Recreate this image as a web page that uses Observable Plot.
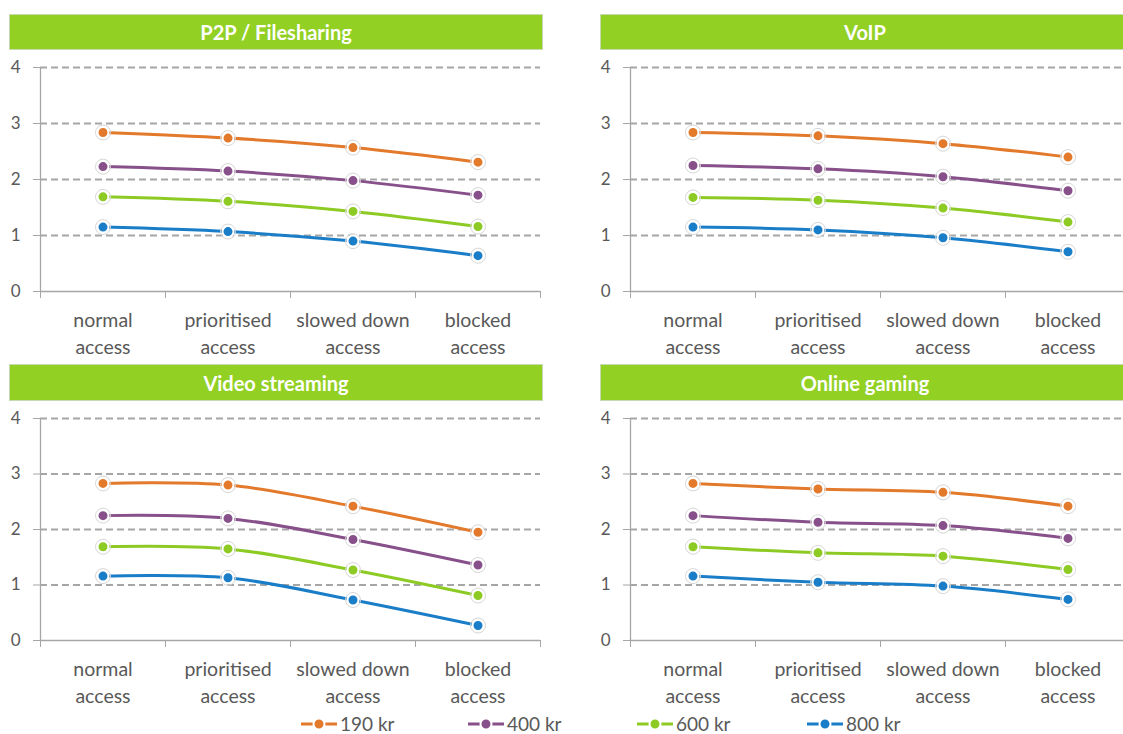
<!DOCTYPE html>
<html><head><meta charset="utf-8">
<script src="https://cdn.jsdelivr.net/npm/d3@7"></script>
<script src="https://cdn.jsdelivr.net/npm/@observablehq/plot@0.6"></script>
<style>
body{margin:0;background:#fff;width:1123px;height:734px;overflow:hidden;position:relative;font-family:Lato,"Open Sans",sans-serif;}
.bar{position:absolute;background:#92D024;color:#fff;font-weight:bold;font-size:20px;display:flex;align-items:center;justify-content:center;box-sizing:border-box;border:1px solid #c8d8b0;}
.panel{position:absolute;width:550px;}
.panel svg{max-width:none !important;}
.legend{position:absolute;top:715px;left:0;width:1123px;height:18px;}
.item{position:absolute;display:flex;align-items:center;font-size:19px;line-height:18px;height:18px;color:#595959;}
</style></head><body>
<script>
const categories = ["normal\naccess", "prioritised\naccess", "slowed down\naccess", "blocked\naccess"];
const seriesNames = ["190 kr", "400 kr", "600 kr", "800 kr"];
const seriesColors = ["#E2792B", "#87508A", "#8DCB24", "#1A7DC8"];
const panelTitles = ["P2P / Filesharing", "VoIP", "Video streaming", "Online gaming"];
const yTicks = [0, 1, 2, 3, 4];

// values per series: 190 kr, 400 kr, 600 kr, 800 kr
const p2p = [
  [2.84, 2.74, 2.57, 2.31],
  [2.23, 2.15, 1.98, 1.72],
  [1.69, 1.61, 1.43, 1.16],
  [1.15, 1.07, 0.90, 0.64]
];
const voip = [
  [2.84, 2.78, 2.64, 2.40],
  [2.25, 2.19, 2.05, 1.80],
  [1.68, 1.63, 1.49, 1.24],
  [1.15, 1.10, 0.96, 0.71]
];
const video = [
  [2.83, 2.80, 2.42, 1.95],
  [2.25, 2.20, 1.82, 1.36],
  [1.69, 1.65, 1.27, 0.81],
  [1.16, 1.13, 0.73, 0.27]
];
const gaming = [
  [2.83, 2.73, 2.67, 2.42],
  [2.25, 2.13, 2.07, 1.84],
  [1.69, 1.58, 1.52, 1.28],
  [1.16, 1.05, 0.98, 0.74]
];

function makePanel(values, height) {
  const data = [];
  values.forEach((vals, s) => vals.forEach((v, i) => data.push({series: seriesNames[s], x: i + 0.5, v})));
  return Plot.plot({
    width: 550, height, marginLeft: 40, marginRight: 10, marginTop: 17, marginBottom: 65,
    style: {fontFamily: "Lato, 'Open Sans', sans-serif", fontSize: "19.5px", color: "#595959", background: "transparent", overflow: "visible"},
    x: {domain: [0, 4]},
    y: {domain: [0, 4]},
    color: {domain: seriesNames, range: seriesColors},
    marks: [
      Plot.ruleY([1, 2, 3, 4], {stroke: "#A6A6A6", strokeWidth: 2, strokeDasharray: "7,4"}),
      Plot.ruleY([0], {stroke: "#A6A6A6", strokeWidth: 1.3}),
      Plot.ruleX([0], {stroke: "#A6A6A6", strokeWidth: 1.3}),
      Plot.axisY({ticks: yTicks, tickSize: 7, tickPadding: 13, tickFormat: d => String(d), stroke: "#A6A6A6", fill: "#595959", label: null, fontSize: 17}),
      Plot.axisX({ticks: [0, 1, 2, 3, 4], tickSize: 7, tickFormat: () => "", stroke: "#A6A6A6", label: null}),
      Plot.axisX({ticks: [0.5, 1.5, 2.5, 3.5], tickSize: 0, tickPadding: 16, tickFormat: d => categories[Math.floor(d)], fill: "#595959", label: null, lineHeight: 1.38}),
      Plot.line(data, {x: "x", y: "v", z: "series", stroke: "series", strokeWidth: 3, curve: "catmull-rom"}),
      Plot.dot(data, {x: "x", y: "v", r: 7.5, stroke: "#d6d6d6", strokeWidth: 1, fill: "none"}),
      Plot.dot(data, {x: "x", y: "v", r: 5.5, fill: "series", stroke: "white", strokeWidth: 2})
    ]
  });
}

const layout = [
  {vals: p2p, barL: 9, barT: 14, barW: 534, barH: 36, pL: 0, pT: 50, h: 306},
  {vals: voip, barL: 600, barT: 14, barW: 530, barH: 36, pL: 590, pT: 50, h: 306},
  {vals: video, barL: 9, barT: 364, barW: 534, barH: 37, pL: 0, pT: 401, h: 304},
  {vals: gaming, barL: 600, barT: 364, barW: 530, barH: 37, pL: 590, pT: 401, h: 304}
];

layout.forEach((L, k) => {
  const bar = document.createElement("div");
  bar.className = "bar";
  Object.assign(bar.style, {left: L.barL + "px", top: L.barT + "px", width: L.barW + "px", height: L.barH + "px"});
  bar.textContent = panelTitles[k];
  document.body.appendChild(bar);
  const wrap = document.createElement("div");
  wrap.className = "panel";
  Object.assign(wrap.style, {left: L.pL + "px", top: L.pT + "px"});
  wrap.appendChild(makePanel(L.vals, L.h));
  document.body.appendChild(wrap);
});

const legend = document.createElement("div");
legend.className = "legend";
const legendX = [300, 467, 636, 806];
seriesNames.forEach((name, i) => {
  const it = document.createElement("div");
  it.className = "item";
  it.style.left = legendX[i] + "px";
  const c = seriesColors[i];
  it.innerHTML = `<svg width="38" height="18" style="margin-right:2px"><line x1="1" y1="9" x2="37" y2="9" stroke="${c}" stroke-width="3"/><circle cx="19" cy="9" r="5.5" fill="${c}" stroke="white" stroke-width="2"/></svg><span>${name}</span>`;
  legend.appendChild(it);
});
document.body.appendChild(legend);
</script>
</body></html>
